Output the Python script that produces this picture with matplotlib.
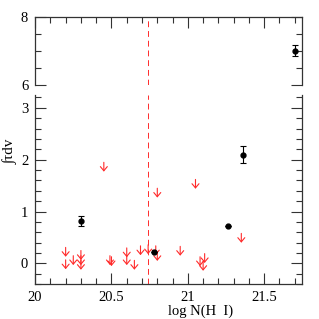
import numpy as np
import matplotlib
matplotlib.use('Agg')
import matplotlib.pyplot as plt
from matplotlib.ticker import MultipleLocator, FixedLocator

plt.rcParams['font.family'] = ['Liberation Serif', 'DejaVu Serif']

# detections (log N(HI), integrated optical depth, error)
det_x = [20.30, 20.78, 21.26, 21.36]
det_y = [0.82, 0.22, 0.72, 2.10]
det_err = [0.09, 0.0, 0.0, 0.17]
# detection off the lower panel scale
top_x = [21.70]
top_y = [7.02]
top_err = [0.16]

# upper limits
lim_x = [20.20, 20.20, 20.25, 20.30, 20.30, 20.30, 20.45, 20.49, 20.50,
         20.60, 20.60, 20.65, 20.69, 20.74, 20.79, 20.80, 20.80, 20.95,
         21.05, 21.08, 21.11, 21.10, 21.35]
lim_y = [0.31, 0.07, 0.15, 0.25, 0.15, 0.06, 1.95, 0.15, 0.13,
         0.30, 0.15, 0.06, 0.34, 0.36, 0.34, 0.23, 1.45, 0.33,
         1.62, 0.13, 0.19, 0.04, 0.58]

cut_x = 20.74
red = '#ff2a2a'

fig = plt.figure(figsize=(3.19, 3.19), dpi=100)
ax_top = fig.add_axes([0.110, 0.733, 0.838, 0.213])
ax = fig.add_axes([0.110, 0.109, 0.838, 0.592])

for a in (ax_top, ax):
    a.set_xlim(20, 21.75)
    a.xaxis.set_major_locator(FixedLocator([20, 20.5, 21, 21.5]))
    a.xaxis.set_minor_locator(MultipleLocator(0.1))
    a.tick_params(which='both', direction='in', colors='#333333', labelcolor='black',
                  width=0.8, labelsize=10.5, right=True, top=True)
    a.tick_params(which='major', length=8)
    a.tick_params(which='minor', length=4)
    a.axvline(cut_x, color=red, lw=0.7, dashes=(6, 4))
    for s in a.spines.values():
        s.set_color('#333333')
        s.set_linewidth(0.9)

# oberes Panel
ax_top.set_ylim(6, 8)
ax_top.yaxis.set_major_locator(FixedLocator([6, 8]))
ax_top.yaxis.set_minor_locator(MultipleLocator(0.5))
ax_top.spines['bottom'].set_visible(False)
ax_top.tick_params(axis='x', which='both', bottom=False, labelbottom=False)
ax_top.tick_params(axis='y', pad=5)
ax_top.errorbar(top_x, top_y, yerr=top_err, fmt='o', color='black', ms=3.5,
                elinewidth=0.8, capsize=2, capthick=0.8)

# unteres Panel
ax.set_ylim(-0.4, 3.24)
ax.yaxis.set_major_locator(FixedLocator([0, 1, 2, 3]))
ax.yaxis.set_minor_locator(MultipleLocator(0.2))
ax.spines['top'].set_visible(False)
ax.tick_params(axis='x', which='both', top=False, pad=5)
ax.tick_params(axis='y', pad=5)
ax.set_xticklabels(['20', '20.5', '21', '21.5'])

ax.errorbar(det_x, det_y, yerr=det_err, fmt='o', color='black', ms=3.5,
            elinewidth=0.8, capsize=2, capthick=0.8, zorder=4)

# obere Grenzen als Pfeile
for x, y in zip(lim_x, lim_y):
    ax.annotate('', xy=(x, y - 0.18), xytext=(x, y),
                arrowprops=dict(arrowstyle='->,head_length=0.3,head_width=0.25',
                                color=red, lw=0.8, shrinkA=0, shrinkB=0,
                                mutation_scale=10))

ax.set_xlabel('log N(H  I)', fontsize=10.5, labelpad=0)
ax.xaxis.label.set_position((0.62, 0))
fig.text(0.033, 0.525, '∫τdv', rotation=90, ha='center', va='center',
         fontsize=11)

fig.savefig('out.png', dpi=100)
